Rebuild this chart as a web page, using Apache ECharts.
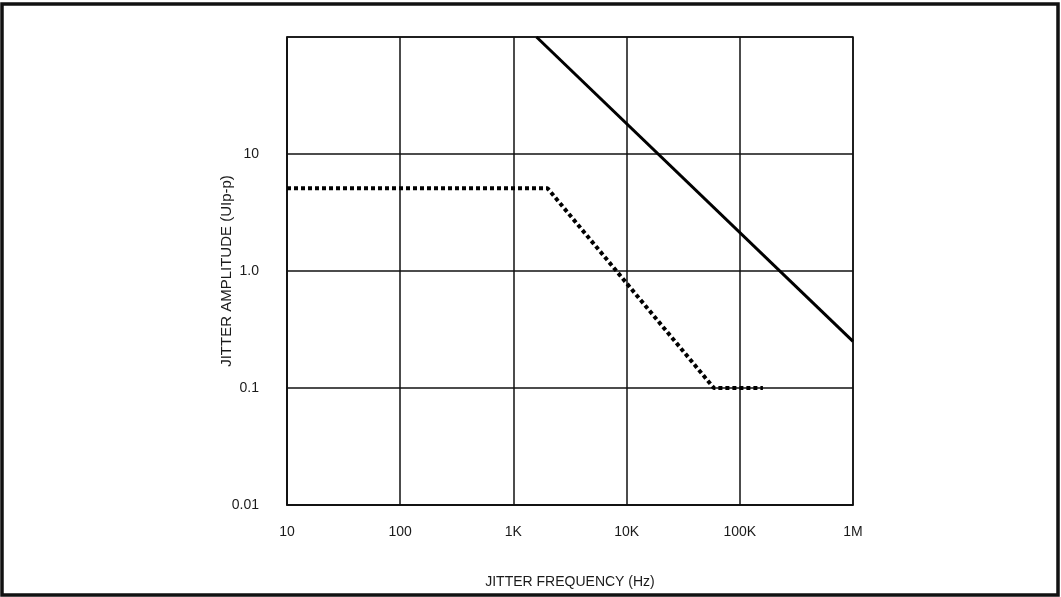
<!DOCTYPE html>
<html>
<head>
<meta charset="utf-8">
<script src="https://cdn.jsdelivr.net/npm/echarts@6/dist/echarts.min.js"></script>
<style>
  html, body { margin: 0; padding: 0; background: #fff; }
  #chart { width: 1061px; height: 597px; }
</style>
</head>
<body>
<div id="chart"></div>
<script>
// Tick labels, one per decade
const xTickLabels = ['10', '100', '1K', '10K', '100K', '1M']
const yTickLabels = ['0.01', '0.1', '1.0', '10', '']

// Upper curve (solid): [frequency Hz, amplitude UIp-p]
const solidCurve = [
  [1600, 100],
  [1000000, 0.25],
]

// Lower curve (dotted)
const dottedCurve = [
  [10, 5.1],
  [2000, 5.1],
  [59000, 0.1],
  [160000, 0.1],
]

const chart = echarts.init(document.getElementById('chart'))

const labelFont = {
  color: '#1a1a1a',
  fontSize: 14,
  fontFamily: 'Liberation Sans, Arial, sans-serif',
}

const option = {
  animation: false,
  backgroundColor: '#fff',
  graphic: [
    {
      type: 'rect',
      shape: { x: 2, y: 4, width: 1056, height: 591 },
      style: { fill: 'none', stroke: '#111', lineWidth: 3.5 },
      silent: true,
    },
  ],
  grid: {
    left: 287,
    top: 37,
    width: 566,
    height: 468,
    show: true,
    borderColor: '#111',
    borderWidth: 1.5,
  },
  xAxis: {
    type: 'log',
    logBase: 10,
    min: 10,
    max: 1000000,
    name: 'JITTER FREQUENCY (Hz)',
    nameLocation: 'middle',
    nameGap: 70,
    nameTextStyle: labelFont,
    axisLine: { lineStyle: { color: '#111', width: 1.5 } },
    axisTick: { show: false },
    axisLabel: {
      ...labelFont,
      margin: 20,
      formatter: (v) => xTickLabels[Math.round(Math.log10(v)) - 1],
    },
    splitLine: { show: true, lineStyle: { color: '#111', width: 1.5 } },
    minorTick: { show: false },
  },
  yAxis: {
    type: 'log',
    logBase: 10,
    min: 0.01,
    max: 100,
    name: 'JITTER AMPLITUDE (UIp-p)',
    nameLocation: 'middle',
    nameGap: 53,
    nameMoveOverlap: false,
    nameRotate: 90,
    nameTextStyle: { ...labelFont, fontSize: 15 },
    axisLine: { lineStyle: { color: '#111', width: 1.5 } },
    axisTick: { show: false },
    axisLabel: {
      ...labelFont,
      margin: 28,
      formatter: (v) => yTickLabels[Math.round(Math.log10(v)) + 2],
    },
    splitLine: { show: true, lineStyle: { color: '#111', width: 1.5 } },
  },
  series: [
    {
      type: 'line',
      data: solidCurve,
      symbol: 'none',
      clip: true,
      lineStyle: { color: '#000', width: 3 },
    },
    {
      type: 'line',
      data: dottedCurve,
      symbol: 'none',
      clip: true,
      lineStyle: { color: '#000', width: 4, type: [4, 3], cap: 'butt' },
    },
  ],
}

chart.setOption(option)
</script>
</body>
</html>
